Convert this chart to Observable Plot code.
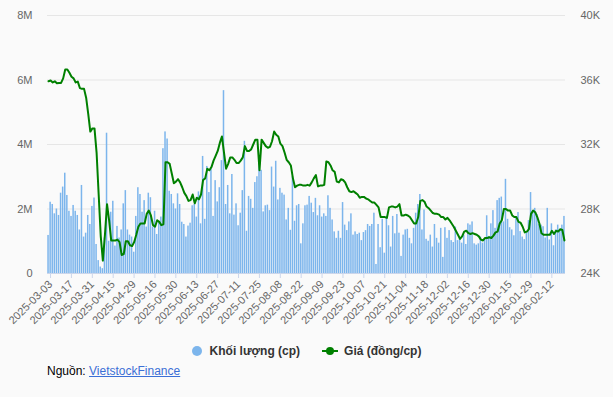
<!DOCTYPE html>
<html>
<head>
<meta charset="utf-8">
<script src="https://cdn.jsdelivr.net/npm/d3@7"></script>
<script src="https://cdn.jsdelivr.net/npm/@observablehq/plot@0.6"></script>
<style>
  html, body { margin: 0; padding: 0; background: #fafafa; }
  #wrap { position: relative; width: 613px; height: 397px; font-family: "Liberation Sans", Arial, sans-serif; }
  #legend { position: absolute; left: 0; top: 344px; width: 613px; display: flex; justify-content: center; gap: 22px; font-size: 12px; font-weight: bold; color: #333; }
  #legend .item { display: flex; align-items: center; }
  #legend .dot { width: 10px; height: 10px; border-radius: 50%; background: #7cb5ec; margin-right: 8px; }
  #legend .ln { position: relative; width: 16px; height: 2px; background: #008000; margin-right: 6px; }
  #legend .ln::after { content: ""; position: absolute; left: 4px; top: -3px; width: 8px; height: 8px; border-radius: 50%; background: #008000; }
  #source { position: absolute; left: 47px; top: 364px; font-size: 12px; color: #000; }
  #source a { color: #3b6fd6; text-decoration: underline; }
</style>
</head>
<body>
<div id="wrap">
  <div id="chart"></div>
  <div id="legend">
    <div class="item"><span class="dot"></span>Khối lượng (cp)</div>
    <div class="item"><span class="ln"></span>Giá (đồng/cp)</div>
  </div>
  <div id="source">Nguồn: <a href="#">VietstockFinance</a></div>
</div>
<script>
// X-axis tick labels (one every 10 trading sessions)
const tickLabels = ["2025-03-03","2025-03-17","2025-03-31","2025-04-15","2025-04-29","2025-05-16","2025-05-30","2025-06-13","2025-06-27","2025-07-11","2025-07-25","2025-08-08","2025-08-22","2025-09-09","2025-09-23","2025-10-07","2025-10-21","2025-11-04","2025-11-18","2025-12-02","2025-12-16","2025-12-30","2026-01-15","2026-01-29","2026-02-12"];

// Volume (millions of shares), one value per session
const volumeM = [
1.18,2.21,2.14,1.85,2.0,1.8,2.49,2.68,3.11,2.42,
1.93,1.77,2.11,1.93,1.8,1.35,2.73,1.13,1.25,1.8,
1.52,2.08,2.34,0.9,0.4,0.2,0.15,1.1,4.35,1.0,
1.9,2.24,0.85,1.46,1.1,1.35,2.16,2.57,1.35,1.19,
1.13,0.66,1.77,2.66,2.45,1.9,2.26,1.44,2.49,2.35,
1.44,1.93,1.21,1.62,1.75,3.87,4.39,4.17,2.55,2.45,
2.16,2.0,2.47,2.14,1.59,1.52,1.13,1.47,1.56,2.1,
2.14,1.75,2.53,1.54,3.63,1.68,3.32,2.51,3.25,1.77,
2.88,2.22,2.66,3.5,5.67,2.14,2.73,1.85,3.07,1.81,
2.16,1.48,1.87,2.57,4.1,1.31,2.39,2.3,2.02,2.82,
3.0,3.5,3.2,1.91,2.1,2.12,1.95,3.3,2.68,3.48,
2.28,2.64,2.49,2.43,1.66,2.02,1.34,3.0,1.62,2.1,
2.14,0.92,1.54,2.1,2.12,2.39,2.18,1.89,2.33,1.79,
2.1,1.75,1.85,1.77,2.41,2.02,1.66,1.29,1.09,1.31,
1.09,2.2,1.5,1.33,1.6,1.85,1.19,1.29,1.21,1.25,
1.02,1.27,1.33,1.52,1.46,1.52,1.87,0.28,1.52,0.8,
1.68,0.63,1.77,1.48,0.82,1.77,1.23,1.83,1.25,0.53,
1.19,1.35,1.37,1.09,0.92,1.4,1.87,2.14,2.45,1.35,
1.97,1.06,1.0,1.19,0.82,1.52,1.09,0.94,1.4,0.5,
1.42,1.09,1.33,1.02,0.96,1.44,1.02,1.09,0.94,1.19,
0.9,1.54,1.5,1.6,0.92,0.88,0.92,1.13,0.94,1.06,
1.79,1.15,1.54,1.95,1.4,2.26,2.33,2.37,1.6,2.92,
1.68,1.42,1.35,1.17,1.75,1.89,1.3,1.13,1.05,1.25,
1.64,2.51,1.95,2.02,1.83,1.52,1.5,1.45,1.1,2.02,
1.04,1.54,0.86,1.35,1.5,1.33,1.5,1.77
];

// Closing price (thousand VND per share), one value per session
const priceK = [
35.92,35.97,35.85,35.92,35.8,35.82,35.82,36.1,36.65,36.65,
36.45,36.2,36.1,35.85,35.9,35.5,35.45,35.45,34.9,33.9,
32.8,33.0,33.0,31.5,28.9,26.3,24.8,26.4,28.3,27.3,
26.05,26.05,26.05,26.1,25.95,25.15,25.2,26.0,26.0,25.75,
25.7,25.95,26.4,26.9,27.1,27.1,27.1,27.7,27.9,27.6,
27.0,26.9,27.3,27.2,27.0,27.05,30.9,30.9,30.8,30.2,
29.6,29.7,29.85,29.65,29.35,29.0,28.8,28.5,28.55,28.9,
28.35,28.7,28.6,28.9,29.8,29.9,30.5,30.4,30.6,31.0,
31.3,31.6,32.1,32.5,31.5,30.5,30.8,31.2,31.2,31.05,
30.85,30.85,31.0,31.2,31.9,31.6,31.6,31.7,32.0,32.3,
32.3,30.4,32.3,32.1,31.9,31.8,31.85,32.2,32.8,32.6,
32.5,32.05,31.9,31.5,31.05,30.9,30.7,29.9,29.35,29.45,
29.5,29.5,29.45,29.45,29.5,29.45,29.65,29.9,30.1,29.4,
29.45,29.45,29.5,30.95,30.9,30.7,30.4,30.3,29.7,29.65,
29.85,29.8,29.65,29.35,29.1,29.05,29.1,29.0,28.9,28.7,
28.75,28.75,28.65,28.6,28.5,28.4,28.4,28.25,28.1,27.5,
27.5,27.5,27.45,28.1,28.15,28.15,28.1,28.15,28.3,27.6,
27.6,27.65,27.6,27.5,27.3,27.1,27.1,27.5,28.5,28.55,
28.45,28.15,28.05,27.9,27.75,27.7,27.7,27.65,27.5,27.5,
27.35,27.45,27.3,27.1,26.9,26.65,26.4,26.15,26.3,26.6,
26.65,26.5,26.45,26.5,26.45,26.4,26.3,26.1,26.05,26.2,
26.2,26.25,26.2,26.35,26.55,26.6,27.1,27.3,28.0,28.0,
27.9,27.9,27.6,27.5,27.5,27.2,27.15,26.9,26.55,26.6,
26.75,27.7,27.9,27.8,27.5,27.1,26.5,26.4,26.4,26.4,
26.4,26.65,26.45,26.65,26.6,26.75,26.7,26.05
];

const volTicks = [0, 2, 4, 6, 8];          // millions
const priceTicks = [24, 28, 32, 36, 40];   // thousands

const n = volumeM.length;
const data = volumeM.map((v, i) => ({i, vol: v, price: priceK[i]}));
// price axis 24K..40K shares the same vertical range as volume 0..8M
const priceToY = p => (p - priceTicks[0]) / (priceTicks[4] - priceTicks[0]) * volTicks[4];
const xTicks = tickLabels.map((_, k) => k * 10);

const chart = Plot.plot({
  width: 613,
  height: 335,
  marginLeft: 47,
  marginRight: 48,
  marginTop: 15,
  marginBottom: 62,
  style: {background: "transparent", fontFamily: "'Liberation Sans', Arial, sans-serif", fontSize: "11px", color: "#666"},
  x: {type: "linear", domain: [-0.5, n - 0.5]},
  y: {domain: [0, 8]},
  marks: [
    Plot.gridY(volTicks.slice(1), {stroke: "#e6e6e6", strokeOpacity: 1}),
    Plot.rectY(data, {x1: d => d.i - 0.36, x2: d => d.i + 0.36, y: "vol", fill: "#7cb5ec"}),
    Plot.line(data, {x: "i", y: d => priceToY(d.price), stroke: "#008000", strokeWidth: 2, strokeLinejoin: "round"}),
    Plot.ruleY([0], {stroke: "#ccd6eb"}),
    Plot.axisX(xTicks, {tickFormat: i => tickLabels[i / 10], tickRotate: -45, tickSize: 5, tickPadding: 4, dx: 2, stroke: "#ccd6eb", fill: "#666", label: null}),
    Plot.axisY(volTicks, {anchor: "left", tickSize: 0, tickPadding: 15, tickFormat: d => d === 0 ? "0" : d + "M", fill: "#666", label: null}),
    Plot.axisY(volTicks, {anchor: "right", tickSize: 0, tickPadding: 15, tickFormat: (d, k) => priceTicks[k] + "K", fill: "#666", label: null})
  ]
});
document.getElementById("chart").appendChild(chart);
</script>
</body>
</html>
